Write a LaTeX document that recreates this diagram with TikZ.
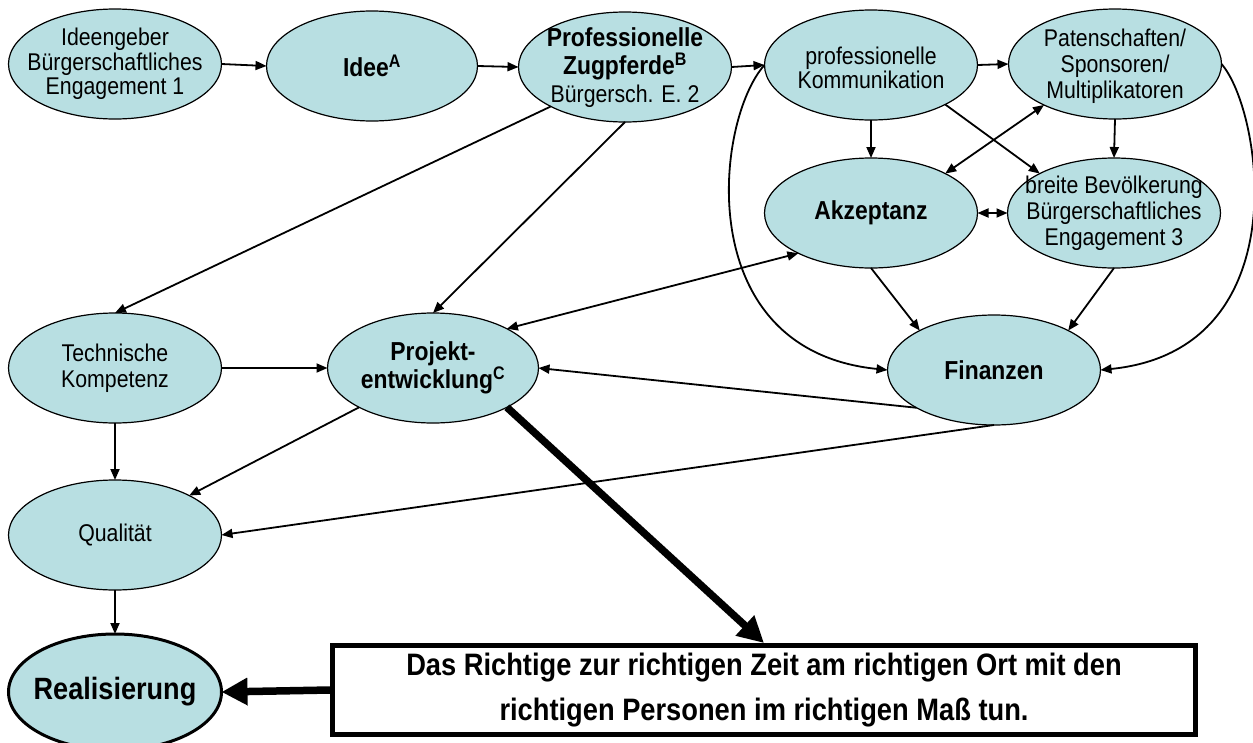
\documentclass[tikz,border=0pt]{standalone}
\usepackage{fontspec}
\setmainfont{Liberation Sans}[FakeStretch=0.88]
\usetikzlibrary{shapes.geometric,arrows.meta}
\definecolor{ellfill}{RGB}{184,223,226}
\begin{document}
\begin{tikzpicture}[x=1pt,y=-1pt,
  ell/.style={ellipse, draw=black, line width=1.2pt, fill=ellfill, inner sep=0pt, outer sep=0pt, minimum width=213pt, minimum height=110pt},
  txt/.style={align=center, inner sep=0pt, font=\fontsize{24.2}{24.5}\selectfont},
  btxt/.style={align=center, inner sep=0pt, font=\fontsize{26}{28}\selectfont\bfseries},
  arr/.style={line width=1.8pt, -{Triangle[length=11pt,width=9pt]}},
  darr/.style={line width=1.8pt, {Triangle[length=11pt,width=9pt]}-{Triangle[length=11pt,width=9pt]}},
  thickarr/.style={line width=7.5pt, -{Triangle[length=26pt,width=26pt]}}
]
\useasboundingbox (0,0) rectangle (1253,742);

% ellipses
\node[ell] (I1) at (115,64) {};
\node[txt] at (I1) {Ideengeber\\Bürgerschaftliches\\Engagement 1};
\node[ell, minimum width=211pt] (I2) at (372,66) {};
\node[btxt] at (I2) {Idee\textsuperscript{A}};
\node[ell] (P) at (625,67) {};
\node[btxt] at ([yshift=-1pt]P.center) {Professionelle\\Zugpferde\textsuperscript{B}\\{\fontsize{24.2}{28}\selectfont\mdseries Bürgersch. E. 2}};
\node[ell] (K) at (871,65) {};
\node[txt, font=\fontsize{24.2}{22.5}\selectfont] at ([yshift=-3pt]K.center) {professionelle\\Kommunikation};
\node[ell] (S) at (1115,64) {};
\node[txt, font=\fontsize{24.2}{26}\selectfont] at ([yshift=-2pt]S.center) {Patenschaften/\\Sponsoren/\\Multiplikatoren};
\node[ell] (A) at (871,213) {};
\node[btxt] at (A) {Akzeptanz};
\node[ell] (B) at (1114,213) {};
\node[txt, font=\fontsize{24.2}{26}\selectfont] at (B) {breite Bevölkerung\\Bürgerschaftliches\\Engagement 3};
\node[ell] (T) at (115,368) {};
\node[txt, font=\fontsize{24.2}{26}\selectfont] at (T) {Technische\\Kompetenz};
\node[ell, minimum width=211pt] (J) at (433,368) {};
\node[btxt] at (J) {Projekt-\\entwicklung\textsuperscript{C}};
\node[ell] (F) at (994,370) {};
\node[btxt] at (F) {Finanzen};
\node[ell] (Q) at (115,535) {};
\node[txt] at (Q) {Qualität};
\node[ell, line width=3pt, minimum height=116pt] (R) at (115,692) {};
\node[btxt, font=\fontsize{30.8}{32}\selectfont\bfseries] at (R) {Realisierung};

% box
\node[draw=black, line width=5pt, minimum width=863pt, minimum height=89pt, inner sep=0pt,
      align=center, font=\fontsize{31}{45}\selectfont\bfseries] (box) at (764,690)
      {Das Richtige zur richtigen Zeit am richtigen Ort mit den\\richtigen Personen im richtigen Maß tun.};

% connectors
\draw[arr] (I1.east) -- (I2.west);
\draw[arr] (I2.east) -- (P.west);
\draw[arr] (P.east) -- (K.west);
\draw[arr] (K.east) -- (S.west);
\draw[arr] (P.208) -- (T.north);
\draw[arr] (P.south) -- (J.north);
\draw[arr] (K.south) -- (A.north);
\draw[arr] (S.south) -- (B.north);
\draw[arr] (K.-28) -- (B.152);
\draw[darr] (A.28) -- (S.210);
\draw[darr] (A.east) -- (B.west);
\draw[darr] (A.209) -- (J.28);
\draw[arr] (A.south) -- (F.152);
\draw[arr] (B.south) -- (F.28);
\draw[arr] (K.west) .. controls (715,120) and (690,350) .. (F.west);
\draw[arr] (S.east) .. controls (1262,110) and (1300,350) .. (F.east);
\draw[arr] (F.206) -- (J.east);
\draw[arr] (F.south) -- (Q.east);
\draw[arr] (T.east) -- (J.west);
\draw[arr] (T.south) -- (Q.north);
\draw[arr] (J.208) -- (Q.28);
\draw[arr] (Q.south) -- (R.north);
\draw[thickarr] (J.-28) -- (box.north);
\draw[thickarr] (box.west) -- (R.east);
\end{tikzpicture}
\end{document}
